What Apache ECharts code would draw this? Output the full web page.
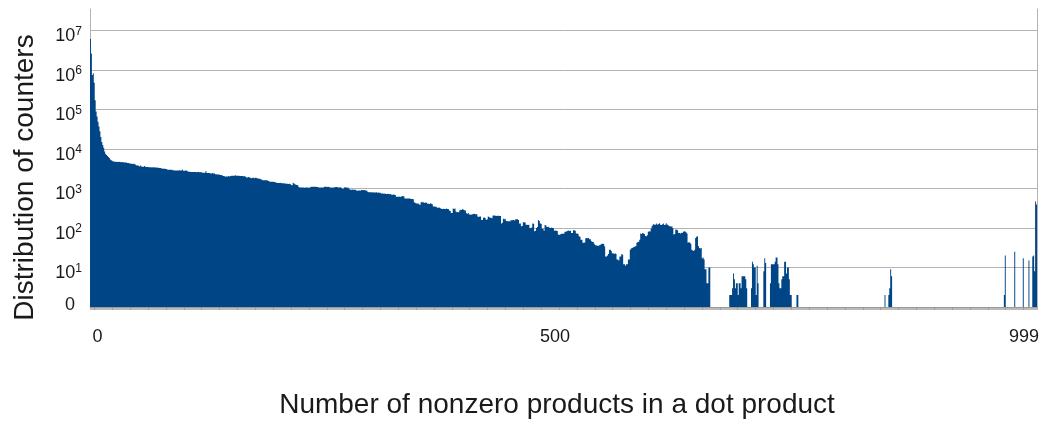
<!DOCTYPE html>
<html><head><meta charset="utf-8">
<script src="https://cdn.jsdelivr.net/npm/echarts@6/dist/echarts.min.js"></script>
<style>html,body{margin:0;padding:0;background:#fff}#c{width:1045px;height:424px}</style>
</head><body><div id="c"></div>
<script>
// Histogram counts for bins 0..654
const counts = [
6000000,2600000,740000,820000,470000,170000,88000,66000,49000,37000,28000,20000,15000,12600,10700,8600,7400,7000,6600,6200,
5900,5400,5200,5000,4800,4800,4700,4700,4650,4700,4650,4700,4600,4650,4600,4600,4550,4500,4500,4400,
4400,4350,4300,4200,4200,4150,4200,4100,3900,3800,3800,3750,3600,3800,3600,3550,3550,3700,3550,3500,
3500,3500,3450,3450,3450,3400,3450,3450,3400,3400,3400,3350,3350,3300,3300,3200,3200,3150,3150,3150,
3100,3000,2950,2950,2950,2950,2950,2900,2900,2850,2850,2850,2850,2850,2900,2850,2850,3000,2800,2800,
2800,2900,2750,2700,2650,2650,2600,2600,2600,2600,2600,2600,2550,2600,2600,2550,2550,2600,2500,2500,
2500,2500,2750,2450,2450,2450,2450,2400,2400,2450,2400,2400,2300,2300,2250,2250,2250,2200,2200,2150,
2050,2050,2000,2000,2000,2000,2050,2000,2050,2100,2100,2100,2100,2150,2100,2100,2100,2100,2050,2050,
2050,2050,2000,2050,1950,1900,1900,1950,1900,1850,1800,1850,1850,1800,1850,1850,1800,1780,1750,1750,
1700,1650,1620,1620,1600,1600,1620,1580,1550,1500,1480,1480,1480,1480,1450,1450,1400,1400,1380,1380,
1380,1400,1360,1350,1350,1340,1330,1320,1320,1300,1310,1300,1220,1200,1400,1330,1280,1240,1220,1200,
1080,1060,1050,1050,1060,1050,1040,1050,1060,1050,1040,1050,1050,1100,1100,1100,1110,1100,1100,1090,
1090,1050,1050,1060,1050,1050,1060,1100,1100,1100,1090,1100,1080,1050,1050,1040,1050,1050,1070,1080,
1080,1070,1060,1060,1070,1040,980,980,1060,1070,1050,1040,1050,1000,940,930,930,940,920,930,
920,890,880,890,890,870,910,910,900,910,900,890,880,810,800,800,800,800,790,800,
790,790,800,780,790,780,780,740,740,745,735,740,720,720,730,720,710,720,690,690,
700,690,680,620,615,620,625,610,620,640,635,630,560,560,560,555,560,560,550,540,
540,530,450,430,420,410,420,400,380,440,460,440,445,430,440,435,410,410,405,420,
410,400,350,355,340,350,330,320,335,320,310,300,300,305,300,300,310,300,300,275,
270,240,240,310,300,310,260,250,255,250,280,290,285,300,290,280,275,235,230,240,
220,220,215,220,225,230,225,220,225,195,190,195,195,160,160,180,185,175,160,165,
195,190,180,180,175,205,210,205,205,200,205,205,200,200,130,135,170,165,170,150,
150,145,150,145,160,155,160,160,155,165,165,165,160,130,130,110,112,140,140,138,
120,120,118,120,100,100,102,130,128,83,85,100,105,160,150,130,128,95,96,85,
118,115,105,105,108,100,100,102,100,98,85,86,85,84,68,66,68,70,72,70,
72,80,80,82,85,86,84,85,74,74,87,87,85,72,72,70,62,60,50,50,
42,42,43,55,56,55,56,52,52,46,45,44,40,37,36,36,35,36,37,38,
40,40,39,34,19,19,20,22,28,28,26,23,23,22,23,22,16,16,15,19,
19,22,21,12,12,11,12,12,16,16,28,30,31,32,33,34,35,42,44,45,
50,72,70,74,72,70,63,62,65,80,82,81,95,110,120,125,118,122,130,120,
125,132,120,118,124,130,118,120,132,122,118,112,110,108,110,100,68,70,92,90,
88,74,75,72,76,74,80,82,81,78,72,42,44,42,40,28,27,26,28,56,
60,62,35,31,30,31,17,18,16,9,9,4,4,10,10
];
// Non-empty bins beyond 654: [bin, count]
const sparseCounts = [
[675,2],[676,2],[677,2],[678,3],[679,7],[680,5],[681,3],[682,4],[683,4],[684,2],[685,4],[686,4],[687,3],
[688,6],[689,6],[690,6],[691,6],[692,5],[693,3],[698,3],[699,14],[700,12],[701,10],[702,10],[703,2],
[704,11],[705,4],[711,8],[712,17],[713,13],[718,4],[719,12],[720,12],[721,12],[722,12],[723,14],[724,18],
[725,18],[726,12],[727,4],[728,3],[729,3],[730,5],[731,6],[732,6],[733,14],[734,14],[735,7],[736,10],
[737,10],[738,5],[739,2],[740,2],[746,2],[747,2],[839,2],[843,2],[844,3],[845,9],[846,6],
[965,2],[966,20],[976,25],[985,17],[991,15],[995,19],[996,20],[997,8],[998,470],[999,390]
];
const binCount = 1000;
const xTickLabels = ['0', '500', '999'];
const yTickExponents = [0, 1, 2, 3, 4, 5, 6, 7];
const xTitle = 'Number of nonzero products in a dot product';
const yTitle = 'Distribution of counters';

const categories = [];
const full = [];
for (let i = 0; i < binCount; i++) { categories.push(String(i)); full.push(i < counts.length ? counts[i] : 0); }
sparseCounts.forEach(function (p) { full[p[0]] = p[1]; });
const seriesData = full.map(function (v) { return v > 0 ? Math.log10(v) : '-'; });

const FONT = '"Liberation Sans", Arial, sans-serif';
const TXT = '#1a1a1a';
const GRID = '#b3b3b3';

const chart = echarts.init(document.getElementById('c'), null, { renderer: 'canvas' });
chart.setOption({
  animation: false,
  grid: { left: 90, right: 8, top: 9, bottom: 116 },
  xAxis: {
    type: 'category', data: categories, boundaryGap: true,
    axisLine: { show: true, lineStyle: { color: GRID, width: 1 } },
    axisTick: { show: true, interval: 0, length: 3, lineStyle: { color: '#8c8c8c', width: 0.6 } },
    axisLabel: {
      interval: function (i, v) { return xTickLabels.indexOf(v) >= 0; },
      formatter: function (v) {
        const k = xTickLabels.indexOf(v);
        return '{t' + k + '|' + v + '}';
      },
      margin: 21,
      rich: {
        t0: { fontSize: 18, fontFamily: FONT, color: TXT, padding: [0, 0, 0, 14] },
        t1: { fontSize: 18, fontFamily: FONT, color: TXT, padding: [0, 18, 0, 0] },
        t2: { fontSize: 18, fontFamily: FONT, color: TXT, padding: [0, 25, 0, 0] }
      }
    },
    splitLine: { show: false },
    name: xTitle, nameLocation: 'middle', nameGap: 84,
    nameTextStyle: { fontSize: 28, fontFamily: FONT, color: TXT, padding: [0, 13, 0, 0] }
  },
  yAxis: [{
    type: 'value', min: 0, max: 7.54, interval: 1,
    axisLine: { show: true, lineStyle: { color: GRID, width: 1 } },
    axisTick: { show: false },
    splitLine: { show: true, showMinLine: false, showMaxLine: false, lineStyle: { color: GRID, width: 1 } },
    axisLabel: {
      margin: 8,
      formatter: function (val) {
        const e = Math.round(val);
        if (Math.abs(val - e) > 1e-6 || yTickExponents.indexOf(e) < 0) return '';
        if (e === 0) return '{z|0}';
        return '{n|10}{s|' + e + '}';
      },
      rich: {
        n: { fontSize: 18, fontFamily: FONT, color: TXT, lineHeight: 18, padding: [12, 0, 0, 0] },
        s: { fontSize: 12, fontFamily: FONT, color: TXT, lineHeight: 12, padding: [10, 0, 8, 0] },
        z: { fontSize: 18, fontFamily: FONT, color: TXT, lineHeight: 18, padding: [0, 7, 3, 0] }
      }
    },
    name: yTitle, nameLocation: 'middle', nameGap: 51,
    nameTextStyle: { fontSize: 28, fontFamily: FONT, color: TXT, padding: [0, 39, 0, 0] }
  }, {
    type: 'value', position: 'right', min: 0, max: 7.54,
    axisLine: { show: true, lineStyle: { color: GRID, width: 1 } },
    axisTick: { show: false }, axisLabel: { show: false }, splitLine: { show: false }
  }],
  series: [{
    type: 'bar', data: seriesData, yAxisIndex: 0,
    barCategoryGap: '0%', barGap: '0%',
    large: true, largeThreshold: 100,
    itemStyle: { color: '#004586' },
    silent: true
  }]
});
</script>
</body></html>
